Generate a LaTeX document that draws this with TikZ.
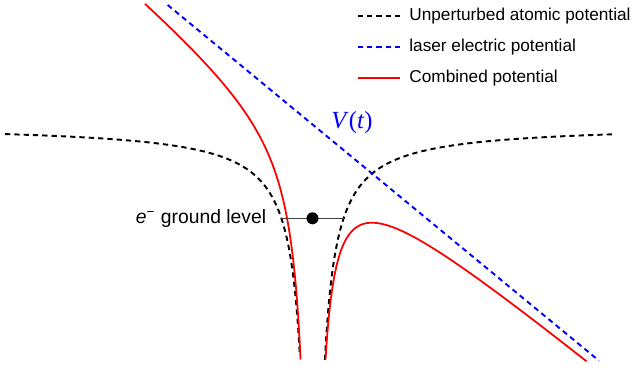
\documentclass[tikz,border=0pt]{standalone}
\usepackage{fontspec}
\setmainfont{Liberation Sans}
\newfontfamily\vtfont{Liberation Serif}
\usetikzlibrary{positioning}
\tikzset{
 atomic/.style={black,line width=1.1pt,dash pattern=on 3pt off 2.3pt},
 laser/.style={blue,line width=1.1pt,dash pattern=on 3pt off 2.3pt},
 combined/.style={red,line width=1pt},
}
\begin{document}
\begin{tikzpicture}[x=2cm,y=2cm,font=\fontsize{11}{13}\selectfont]
\useasboundingbox (-3.125,-2.474) rectangle (3.235,1.246);
\draw[atomic] plot[domain=-3.075:-0.124,samples=300] (\x,{0.2918/\x});
\draw[atomic] plot[domain=0.124:3.025,samples=300] (\x,{-0.2918/\x});
\coordinate (ltop) at (-1.448,1.196);
\coordinate (lbot) at (2.865,-2.361);
\draw[laser] (ltop) -- (lbot);
\draw[combined] plot[domain=-1.675:-0.119,samples=300] (\x,{-0.825*\x+0.2918/\x});
\draw[combined] plot[domain=0.13:2.74,samples=300] (\x,{-0.825*\x-0.2918/\x});
\node[blue,font=\fontsize{14}{16}\selectfont\vtfont] (vt) at (0.395,0.02) {\textit{V}(\textit{t})};
\coordinate (gl) at (-0.311,-0.937);
\coordinate (gr) at (0.311,-0.937);
\draw[black!75,line width=.6pt] (gl) -- (gr);
\node[circle,fill,inner sep=0,minimum size=.24cm] (electron) at (0,-0.937) {};
\node[left=.18cm of gl] (glabel) {\textit{e}\textsuperscript{−} ground level};
\foreach \s/\t [count=\i] in {atomic/Unperturbed atomic potential,laser/laser electric potential,combined/Combined potential}{
 \coordinate (a\i) at (0.452,1.396-0.31*\i);
 \coordinate[right=.85cm of a\i] (b\i);
 \draw[\s] (a\i) -- (b\i);
 \node[right=.06cm of b\i,font=\fontsize{9.8}{12}\selectfont] (t\i) {\t};
}
\end{tikzpicture}
\end{document}
